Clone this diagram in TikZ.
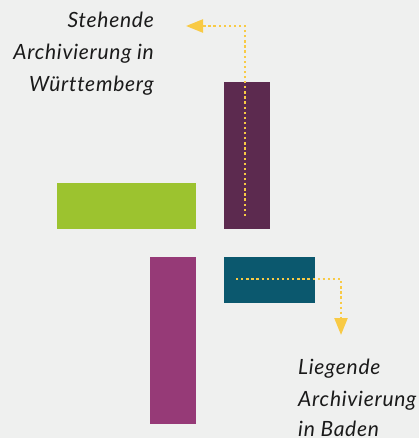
\documentclass[tikz,border=0pt]{standalone}
\usepackage{fontspec}
\setmainfont{Lato}
\newfontfamily\captionfont[LetterSpace=3.5,Ligatures={NoCommon,NoDiscretionary}]{Lato}
\usetikzlibrary{arrows.meta}
\definecolor{bgc}{HTML}{EFF0EF}
\definecolor{plum}{HTML}{5C2A4F}
\definecolor{lime}{HTML}{9CC32F}
\definecolor{berry}{HTML}{963A77}
\definecolor{petrol}{HTML}{0B586E}
\definecolor{sun}{HTML}{F8CA45}
\definecolor{ink}{HTML}{1A1A1A}
\begin{document}
\begin{tikzpicture}[x=1pt,y=-1pt,
  block/.style={draw=none,inner sep=0pt,outer sep=0pt},
  flow/.style={sun,line width=2.3pt,dash pattern=on 2.3pt off 2.8pt,
    -{Triangle[length=17pt,width=13pt]}},
  label/.style={inner sep=0pt,text=ink,font=\captionfont\fontsize{21}{32}\selectfont\itshape}]
  % canvas
  \fill[bgc] (0,0) rectangle (419,438);
  \useasboundingbox (0,0) rectangle (419,438);
  % blocks
  \node[block,fill=plum,minimum width=46pt,minimum height=147pt,anchor=north west] (plumbar) at (224,82) {};
  \node[block,fill=lime,minimum width=139pt,minimum height=46pt,anchor=north west] (limebar) at (57,183) {};
  \node[block,fill=berry,minimum width=46pt,minimum height=167pt,anchor=north west] (berrybar) at (150,257) {};
  \node[block,fill=petrol,minimum width=91pt,minimum height=46pt,anchor=north west] (petrolbar) at (224,257) {};
  % labels
  \node[label,anchor=base east] (w1) at (154,28) {Stehende};
  \node[label,anchor=base east] (w2) at (154,60) {Archivierung in};
  \node[label,anchor=base east] (w3) at (154,92) {Württemberg};
  \node[label,anchor=base west] (b1) at (298,374) {Liegende};
  \node[label,anchor=base west] (b2) at (298,406) {Archivierung};
  \node[label,anchor=base west] (b3) at (298,436) {in Baden};
  % dotted arrows
  \coordinate (upstart) at (245,216);
  \coordinate (uptip) at (186,26);
  \coordinate (lowstart) at (236,279);
  \coordinate (lowtip) at (341,335);
  \draw[flow] (upstart) |- (uptip);
  \draw[flow] (lowstart) -| (lowtip);
\end{tikzpicture}
\end{document}
